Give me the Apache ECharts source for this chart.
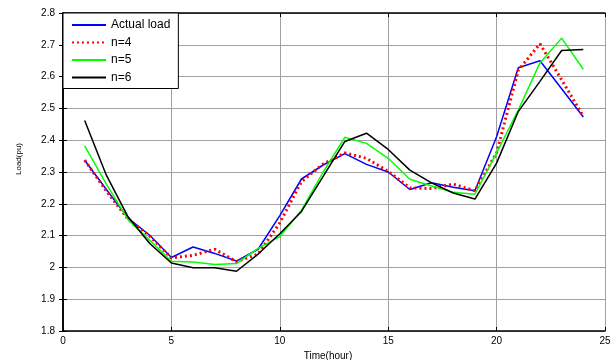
<!DOCTYPE html>
<html>
<head>
<meta charset="utf-8">
<script src="https://cdn.jsdelivr.net/npm/echarts@6/dist/echarts.min.js"></script>
<style>
html,body{margin:0;padding:0;background:#fff;}
#chart{width:615px;height:360px;}
</style>
</head>
<body>
<div id="chart"></div>
<script>
// hours 1..24
const hours = [1,2,3,4,5,6,7,8,9,10,11,12,13,14,15,16,17,18,19,20,21,22,23,24]
const actualLoad = [2.337,2.245,2.155,2.101,2.031,2.064,2.044,2.02,2.057,2.163,2.278,2.322,2.358,2.324,2.3,2.245,2.266,2.252,2.241,2.411,2.628,2.65,2.562,2.473]
const n4 = [2.337,2.24,2.152,2.098,2.03,2.038,2.057,2.018,2.042,2.14,2.27,2.325,2.36,2.343,2.302,2.25,2.248,2.262,2.241,2.36,2.62,2.703,2.59,2.475]
const n5 = [2.382,2.262,2.15,2.085,2.019,2.017,2.009,2.012,2.06,2.097,2.18,2.3,2.409,2.39,2.343,2.277,2.256,2.236,2.23,2.36,2.495,2.643,2.721,2.623]
const n6 = [2.462,2.29,2.159,2.075,2.014,1.999,1.999,1.988,2.042,2.106,2.176,2.286,2.396,2.422,2.371,2.306,2.266,2.234,2.215,2.328,2.49,2.585,2.682,2.685]
const legendNames = ['Actual load','n=4','n=5','n=6']

function pairs(vals){
    return hours.map(function(h,i){ return [h, vals[i]] })
}

const myEcharts = echarts.init(document.getElementById('chart'))
const axisFont = {fontFamily:'Arial, Liberation Sans', fontSize:10, color:'#000'}

const option = {
    animation:false,
    backgroundColor:'#fff',
    grid:{left:63, right:10, top:13, bottom:29, outerBoundsMode:'none', containLabel:false},
    legend:{
        orient:'vertical',
        left:63, top:13,
        backgroundColor:'#fff',
        borderColor:'#000',
        borderWidth:1,
        borderRadius:0,
        padding:[6,8,5,8],
        itemGap:5.5,
        itemWidth:34,
        itemHeight:12,
        itemStyle:{opacity:0},
        textStyle:{fontFamily:'Arial, Liberation Sans', fontSize:12, color:'#000'},
        data:legendNames
    },
    xAxis:[{
        type:'value', min:0, max:25, interval:5,
        name:'Time(hour)', nameLocation:'middle', nameGap:16,
        nameTextStyle:{fontFamily:'Arial, Liberation Sans', fontSize:10, color:'#000', padding:[0,12,0,0]},
        axisLine:{lineStyle:{color:'#000', width:1.5}},
        axisTick:{inside:true, length:4, lineStyle:{color:'#000'}},
        axisLabel:Object.assign({margin:5}, axisFont),
        splitLine:{show:true, lineStyle:{color:'#a0a0a0', width:1}}
    },{
        type:'value', min:0, max:25, interval:5, position:'top',
        axisLine:{lineStyle:{color:'#000', width:1.5}},
        axisTick:{inside:true, length:4, lineStyle:{color:'#000'}},
        axisLabel:{show:false},
        splitLine:{show:false}
    }],
    yAxis:[{
        type:'value', min:1.8, max:2.8, interval:0.1,
        name:'Load(pu)', nameLocation:'middle', nameGap:40, nameRotate:90,
        nameTextStyle:{fontFamily:'Arial, Liberation Sans', fontSize:8, color:'#000', padding:[0,0,0,26]},
        axisLine:{show:true, lineStyle:{color:'#000', width:1.5}},
        axisTick:{show:true, inside:true, length:4, lineStyle:{color:'#000'}},
        axisLabel:Object.assign({margin:8, formatter:function(v){ return String(+v.toFixed(1)) }}, axisFont),
        splitLine:{show:true, lineStyle:{color:'#a0a0a0', width:1}}
    },{
        type:'value', min:1.8, max:2.8, interval:0.1, position:'right',
        axisLine:{show:true, lineStyle:{color:'#000', width:1.5}},
        axisTick:{show:true, inside:true, length:4, lineStyle:{color:'#000'}},
        axisLabel:{show:false},
        splitLine:{show:false}
    }],
    series:[
        {name:'Actual load', type:'line', symbol:'none', data:pairs(actualLoad),
            lineStyle:{color:'#0000ff', width:1.5}, itemStyle:{color:'#0000ff'}},
        {name:'n=4', type:'line', symbol:'none', data:pairs(n4),
            lineStyle:{color:'#ff0000', width:3, type:[2,3]}, itemStyle:{color:'#ff0000'}},
        {name:'n=5', type:'line', symbol:'none', data:pairs(n5),
            lineStyle:{color:'#00ff00', width:1.5}, itemStyle:{color:'#00ff00'}},
        {name:'n=6', type:'line', symbol:'none', data:pairs(n6),
            lineStyle:{color:'#000000', width:1.5}, itemStyle:{color:'#000000'}}
    ]
}
myEcharts.setOption(option)
</script>
</body>
</html>
